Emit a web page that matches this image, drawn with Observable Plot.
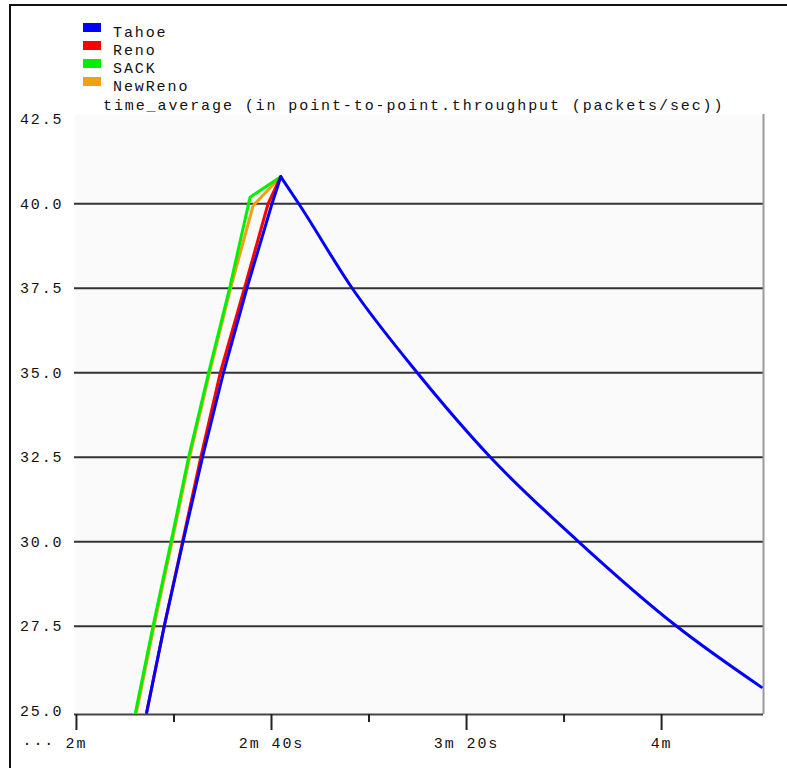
<!DOCTYPE html>
<html>
<head>
<meta charset="utf-8">
<script src="https://cdn.jsdelivr.net/npm/d3@7"></script>
<script src="https://cdn.jsdelivr.net/npm/@observablehq/plot@0.6"></script>
<style>
  html, body { margin: 0; padding: 0; background: #ffffff; }
  #page { position: relative; width: 787px; height: 768px; overflow: hidden; background: #fff;
          font-family: "Liberation Mono", "DejaVu Sans Mono", monospace; }
  #frame { position: absolute; left: 9px; top: 4px; width: 800px; height: 762px;
           border-left: 2px solid #111; border-top: 2px solid #111; border-bottom: 1px solid #d4d4d4; }
  .sw { position: absolute; left: 83px; width: 18px; height: 9px; }
  .lg { position: absolute; left: 113px; font-size: 15px; line-height: 15px; letter-spacing: 1.9px; color: #111; white-space: pre; }
  #title { position: absolute; left: 103px; top: 99px; font-size: 15px; line-height: 15px; letter-spacing: 1.9px; color: #111; white-space: pre; }
  #chart { position: absolute; left: 0; top: 100px; }
  #chart svg text { letter-spacing: 1.9px; }
</style>
</head>
<body>
<div id="page">
  <div id="frame"></div>
  <div id="legend"></div>
  <div id="title"></div>
  <div id="chart"></div>
</div>
<script>
// ---- data ----
const seriesNames  = ["Tahoe", "Reno", "SACK", "NewReno"];
const seriesColors = ["#0000ff", "#ff0000", "#00f000", "#f0a010"];
const titleText = "time_average (in point-to-point.throughput (packets/sec))";

// time in seconds, throughput in packets/sec
// Tahoe: rise to the peak, then the decay after the peak
const tahoeRiseT = [134.4, 138.0, 141.85, 145.85, 150.15, 154.95, 160.1, 161.9];
const tahoeRiseV = [24.95, 27.5, 30.0, 32.5, 35.0, 37.5, 40.0, 40.8];
const tahoeDecayT = [161.9, 165.6, 176.55, 189.9, 204.9, 223.0, 243.1, 260.45];
const tahoeDecayV = [40.8, 40.0, 37.5, 35.0, 32.5, 30.0, 27.5, 25.7];
const renoT = [134.4, 138.0, 141.75, 145.5, 149.5, 154.45, 159.3, 161.9];
const renoV = [24.95, 27.5, 30.0, 32.5, 35.0, 37.5, 40.0, 40.8];
const sackT = [132.1, 135.7, 139.4, 143.0, 147.1, 151.4, 155.6, 161.9];
const sackV = [24.95, 27.5, 30.0, 32.5, 35.0, 37.5, 40.19, 40.8];
const newRenoT = [132.3, 135.9, 139.6, 143.2, 147.3, 151.6, 156.25, 161.9];
const newRenoV = [24.95, 27.5, 30.0, 32.5, 35.0, 37.5, 39.95, 40.8];

const xDomain = [119.6, 260.9];
const yDomain = [24.89, 42.64];
const yTicks = [25, 27.5, 30, 32.5, 35, 37.5, 40, 42.5];
const gridValues = [27.5, 30, 32.5, 35, 37.5, 40];
const xMajorTicks = [120, 160, 200, 240];
const xMajorLabels = ["2m", "2m 40s", "3m 20s", "4m"];
const xMinorTicks = [140, 180, 220];
const leftEllipsis = ["..."];

// ---- build ----
const toRows = (name, T, V) => T.map((t, i) => ({series: name, t, v: V[i]}));
const colorOf = Object.fromEntries(seriesNames.map((n, i) => [n, seriesColors[i]]));

// legend
const legend = document.getElementById("legend");
seriesNames.forEach((name, i) => {
  const sw = document.createElement("div");
  sw.className = "sw";
  sw.style.top = (23 + 18 * i) + "px";
  sw.style.background = seriesColors[i];
  legend.appendChild(sw);
  const lb = document.createElement("div");
  lb.className = "lg";
  lb.style.top = (26 + 18 * i) + "px";
  lb.textContent = name;
  legend.appendChild(lb);
});
document.getElementById("title").textContent = titleText;

const labelOf = Object.fromEntries(xMajorTicks.map((t, i) => [t, xMajorLabels[i]]));
const lineOpts = (name, extra = {}) => ({x: "t", y: "v", stroke: colorOf[name], strokeWidth: 3, clip: true, ...extra});

const chart = Plot.plot({
  width: 787,
  height: 668,
  marginTop: 14,
  marginBottom: 54,
  marginLeft: 74,
  marginRight: 24,
  x: {domain: xDomain, label: null},
  y: {domain: yDomain, label: null},
  style: {fontFamily: "'Liberation Mono', 'DejaVu Sans Mono', monospace", fontSize: "15px", background: "transparent", color: "#111", overflow: "visible"},
  marks: [
    Plot.frame({fill: "#fafafa", stroke: null}),
    Plot.ruleY(gridValues, {stroke: "#333", strokeWidth: 2}),
    Plot.ruleX([xDomain[1]], {stroke: "#9a9a9a", strokeWidth: 2}),
    Plot.ruleY([yDomain[0]], {stroke: "#444", strokeWidth: 2}),
    Plot.axisY({ticks: yTicks, tickSize: 0, tickPadding: 11, tickFormat: d3.format(".1f"), fill: "#111", label: null}),
    Plot.axisX({ticks: xMajorTicks, tickSize: 16, tickPadding: 7, tickFormat: d => labelOf[d], stroke: "#222", strokeWidth: 2, fill: "#111", label: null}),
    Plot.axisX({ticks: xMinorTicks, tickSize: 8, tickFormat: () => "", stroke: "#222", strokeWidth: 2, label: null}),
    Plot.text(leftEllipsis, {frameAnchor: "bottom-left", text: d => d, textAnchor: "start", dx: -52, dy: 30, fill: "#111"}),
    Plot.line(toRows("NewReno", newRenoT, newRenoV), lineOpts("NewReno")),
    Plot.line(toRows("SACK", sackT, sackV), lineOpts("SACK")),
    Plot.line(toRows("Reno", renoT, renoV), lineOpts("Reno")),
    Plot.line(toRows("Tahoe", tahoeRiseT, tahoeRiseV), lineOpts("Tahoe")),
    Plot.line(toRows("Tahoe", tahoeDecayT, tahoeDecayV), lineOpts("Tahoe", {curve: "monotone-x"}))
  ]
});
document.getElementById("chart").appendChild(chart);
</script>
</body>
</html>
